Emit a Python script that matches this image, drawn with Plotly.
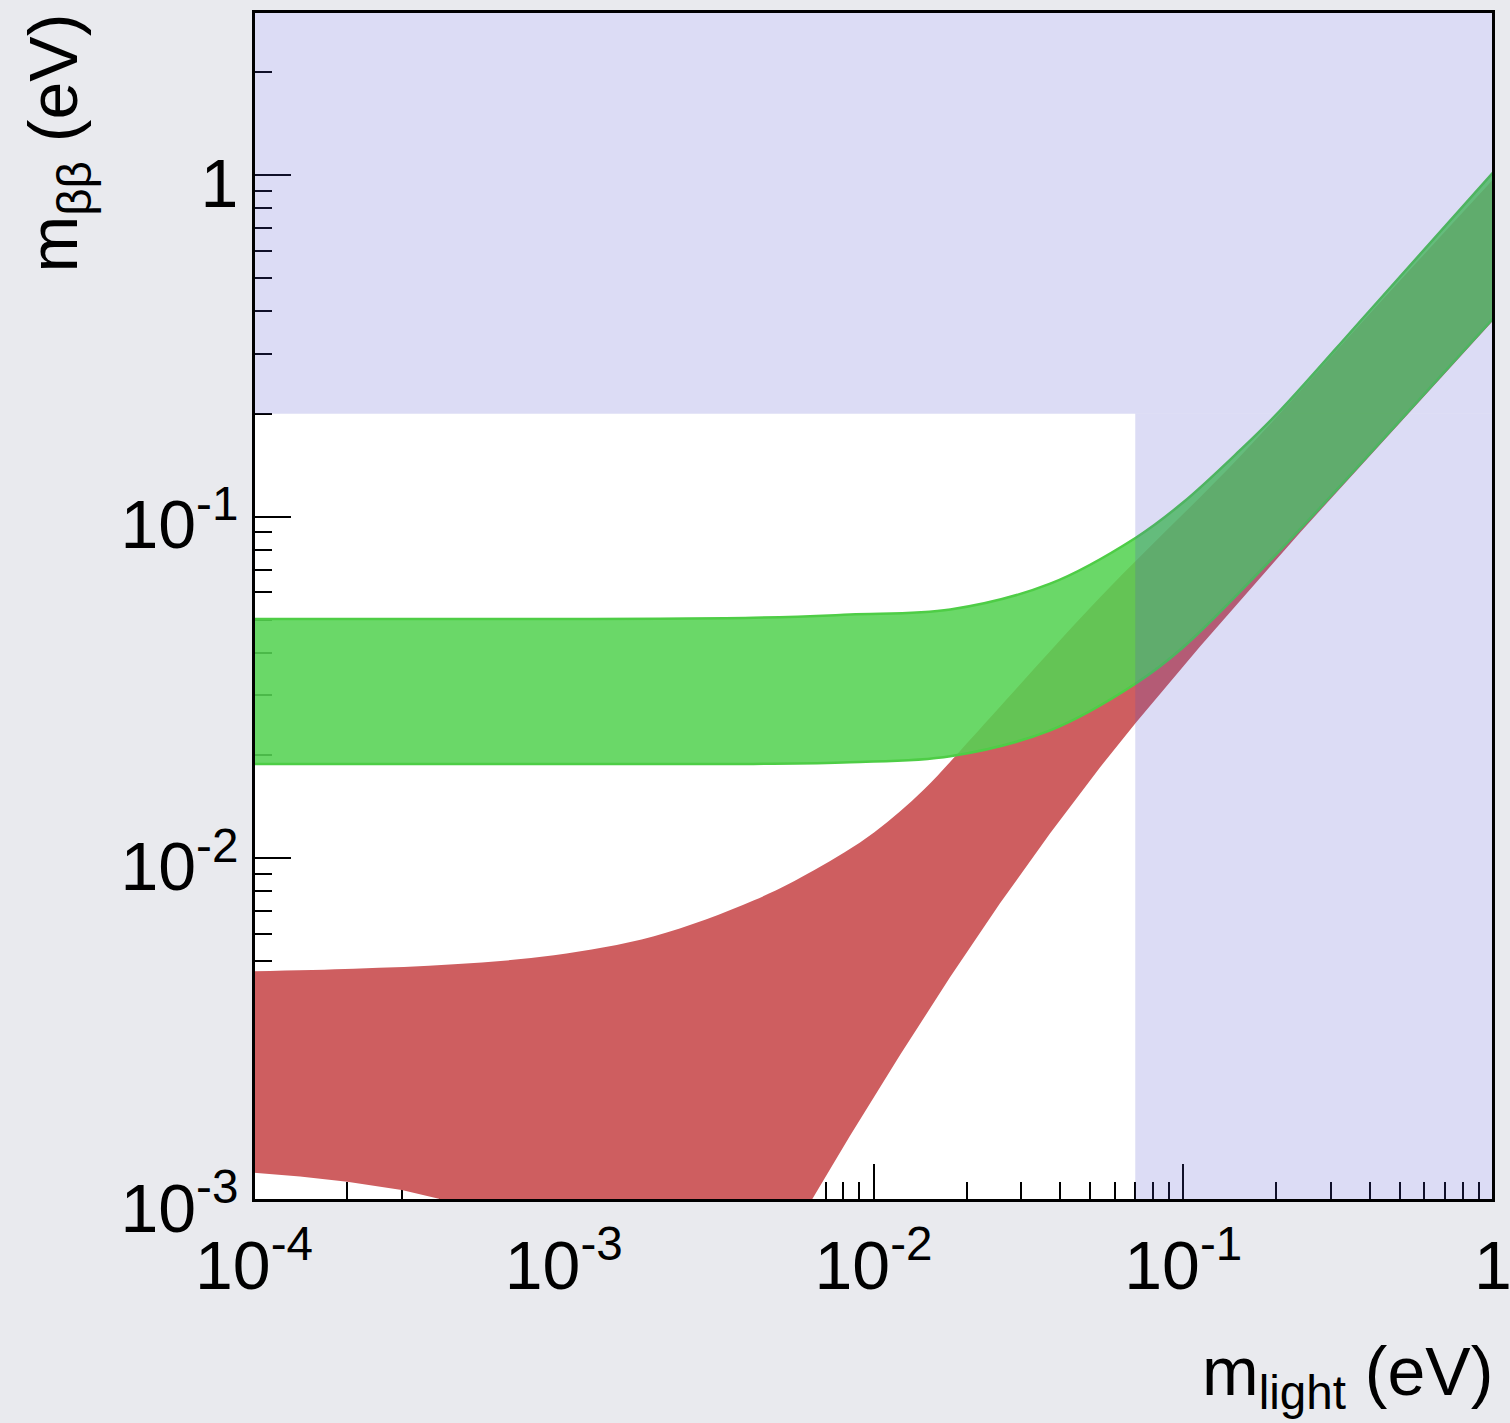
import plotly.graph_objects as go

# ---------------- data ----------------
# Inverted hierarchy band (green), eV
green_upper_x = [1e-4, 0.0041, 0.0084, 0.0177, 0.0372, 0.0703, 0.0998, 0.152, 0.205, 0.391, 1.0]
green_upper_y = [0.0502, 0.0506, 0.0517, 0.0535, 0.0637, 0.0868, 0.110, 0.156, 0.204, 0.392, 1.016]
green_lower_x = [1e-4, 0.0041, 0.0084, 0.0177, 0.0372, 0.0703, 0.0998, 0.205, 0.501, 1.0]
green_lower_y = [0.0189, 0.0189, 0.0191, 0.0199, 0.0237, 0.0325, 0.0414, 0.0796, 0.191, 0.380]

# Normal hierarchy band (red), eV
red_upper_x = [1e-4, 2.10e-4, 4.42e-4, 9.30e-4, 1.956e-3, 4.114e-3, 6.425e-3, 1.004e-2,
               1.455e-2, 2.111e-2, 5.38e-2, 0.1524, 0.3918, 1.0]
red_upper_y = [0.004672, 0.004751, 0.004897, 0.005204, 0.005912, 0.007536, 0.009224, 0.01191,
               0.01591, 0.02289, 0.0580, 0.150, 0.385, 0.97]
red_lower_x = [1e-4, 1.408e-4, 2.0e-4, 3.0e-4, 4.11e-4, 6.318e-3, 8.39e-3, 1.218e-2, 1.766e-2,
               2.561e-2, 3.713e-2, 5.383e-2, 7.04e-2, 0.1133, 0.2381, 0.501, 1.0]
red_lower_y = [0.001202, 0.001171, 0.001131, 0.00107, 0.001, 0.001, 0.001538, 0.002655, 0.004487,
               0.007385, 0.01183, 0.01845, 0.02498, 0.04168, 0.0898, 0.1883, 0.3742]

# Excluded region (blue): allowed window is m_light < 0.07 eV and m_bb < 0.2 eV
x_full = [1e-4, 1.0]
y_full = [1e-3, 3.0]
allowed_x_max = 0.07
allowed_y_max = 0.2

# Tick labels
x_tickvals = [1e-4, 1e-3, 1e-2, 1e-1, 1]
x_ticktext = ["10<sup>-4</sup>", "10<sup>-3</sup>", "10<sup>-2</sup>", "10<sup>-1</sup>", "1"]
y_tickvals = [1e-3, 1e-2, 1e-1, 1]
y_ticktext = ["10<sup>-3</sup>", "10<sup>-2</sup>", "10<sup>-1</sup>", "1"]

# ---------------- style ----------------
FONT = "Liberation Sans, Arial, Helvetica, sans-serif"
RED = "rgb(206,94,96)"
GREEN_FILL = "rgba(85,211,83,0.88)"
GREEN_EDGE = "rgba(78,205,70,1)"
BLUE_OVER = "rgba(80,80,205,0.2)"

x_minor = [m * 10.0 ** e for e in range(-4, 0) for m in range(2, 10)]
y_minor = [m * 10.0 ** e for e in range(-3, 1) for m in range(2, 10) if m * 10.0 ** e < 3]

fig = go.Figure()

# red band
fig.add_trace(go.Scatter(x=red_lower_x, y=red_lower_y, mode="lines",
                         line=dict(width=0, color=RED, shape="linear"),
                         hoverinfo="skip", showlegend=False))
fig.add_trace(go.Scatter(x=red_upper_x, y=red_upper_y, mode="lines",
                         line=dict(width=0, color=RED, shape="spline", smoothing=1),
                         fill="tonexty", fillcolor=RED,
                         hoverinfo="skip", showlegend=False))
# green band
fig.add_trace(go.Scatter(x=green_lower_x, y=green_lower_y, mode="lines",
                         line=dict(width=2.5, color=GREEN_EDGE, shape="spline", smoothing=1),
                         hoverinfo="skip", showlegend=False))
fig.add_trace(go.Scatter(x=green_upper_x, y=green_upper_y, mode="lines",
                         line=dict(width=2.5, color=GREEN_EDGE, shape="spline", smoothing=1),
                         fill="tonexty", fillcolor=GREEN_FILL,
                         hoverinfo="skip", showlegend=False))
# blue excluded regions (overlay)
fig.add_trace(go.Scatter(
    x=[x_full[0], x_full[1], x_full[1], x_full[0], x_full[0]],
    y=[allowed_y_max, allowed_y_max, y_full[1], y_full[1], allowed_y_max],
    mode="lines", line=dict(width=0), fill="toself", fillcolor=BLUE_OVER,
    hoverinfo="skip", showlegend=False))
fig.add_trace(go.Scatter(
    x=[allowed_x_max, x_full[1], x_full[1], allowed_x_max, allowed_x_max],
    y=[y_full[0], y_full[0], allowed_y_max, allowed_y_max, y_full[0]],
    mode="lines", line=dict(width=0), fill="toself", fillcolor=BLUE_OVER,
    hoverinfo="skip", showlegend=False))

axis_common = dict(
    type="log", showgrid=False, zeroline=False,
    showline=True, linecolor="black", linewidth=2, mirror=True,
    ticks="inside", tickcolor="black", tickwidth=2,
    layer="below traces", automargin=False, ticklabeloverflow="allow",
    tickfont=dict(family=FONT, size=68, color="black"),
)

fig.update_xaxes(**axis_common, range=[-4, 0], tickvals=x_tickvals, ticktext=x_ticktext,
                 ticklen=36, ticklabelstandoff=5,
                 minor=dict(tickvals=x_minor, ticks="inside", ticklen=18, tickwidth=2,
                            tickcolor="black", showgrid=False))
fig.update_yaxes(**axis_common, range=[-3, 0.4771], tickvals=y_tickvals, ticktext=y_ticktext,
                 ticklen=37, ticklabelshift=8,
                 minor=dict(tickvals=y_minor, ticks="inside", ticklen=18, tickwidth=2,
                            tickcolor="black", showgrid=False))

# frame above everything
fig.add_shape(type="rect", xref="x domain", yref="y domain", x0=0, x1=1, y0=0, y1=1,
              line=dict(color="black", width=2), fillcolor="rgba(0,0,0,0)", layer="above")

fig.add_annotation(text="m<sub>light</sub> (eV)", xref="paper", yref="paper",
                   x=1, y=0, xanchor="right", yanchor="top", yshift=-131, xshift=2,
                   showarrow=False, font=dict(family=FONT, size=68, color="black"))
fig.add_annotation(text="m<sub>ββ</sub> (eV)", xref="paper", yref="paper",
                   x=0, y=1, xanchor="center", yanchor="top", xshift=-197, yshift=0,
                   textangle=-90,
                   showarrow=False, font=dict(family=FONT, size=68, color="black"))

fig.update_layout(
    width=1510, height=1423,
    margin=dict(l=254, r=17, t=12, b=223),
    paper_bgcolor="#e9eaee", plot_bgcolor="white",
    showlegend=False, template="none",
    font=dict(family=FONT, color="black"),
)

fig.write_html("out.html", config={"displayModeBar": False},
               post_script="document.body.style.margin='0';document.body.style.padding='0';"
                           "document.body.style.overflow='hidden';")
